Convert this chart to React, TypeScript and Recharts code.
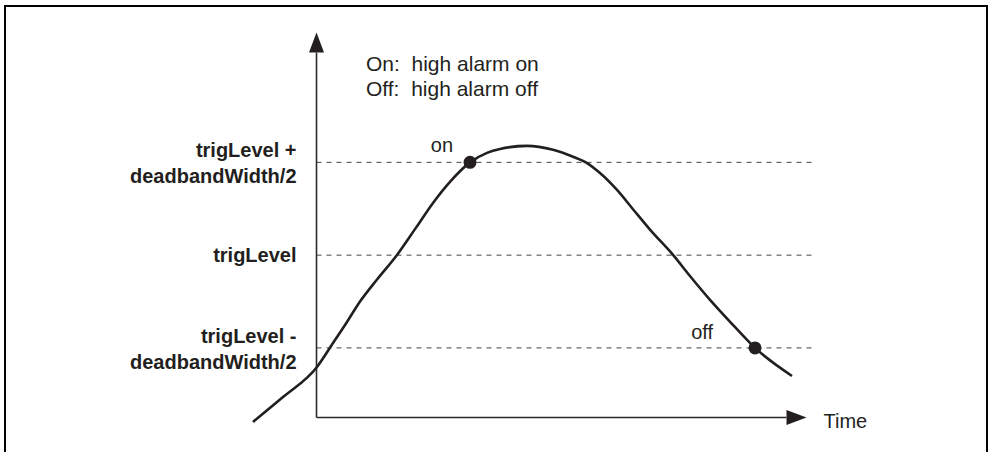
import { LineChart, Line, XAxis, YAxis, ReferenceLine, ReferenceDot } from 'recharts';

// time (arbitrary units, y-axis at 0, x-axis arrow at 100) and signal level
const timePoints = [-12.96, -6.84, 0.1, 3.37, 6.22, 8.88, 12.35, 16.43, 20.45, 23.78, 27.24, 31.33, 34.8, 37.45, 42.96, 48.27, 52.35, 55.2, 57.86, 61.33, 64.59, 68.06, 72.76, 76.22, 80.31, 85, 89.49, 97.04];
const signalValues = [-0.19, 0.88, 2.18, 3.21, 4.12, 5.0, 5.95, 7.01, 8.23, 9.25, 10.16, 11, 11.41, 11.58, 11.71, 11.54, 11.24, 10.97, 10.54, 9.81, 8.98, 8.1, 7.01, 6.1, 5.07, 3.99, 3, 1.79];

// threshold levels and their labels
const levelValues = [11, 7, 3];
const levelLabels = [['trigLevel +', 'deadbandWidth/2'], ['trigLevel'], ['trigLevel -', 'deadbandWidth/2']];

// alarm switching points
const alarmNames = ['on', 'off'];
const alarmTimes = [31.33, 89.49];
const alarmLevels = [11, 3];

const legendLines = ['On:  high alarm on', 'Off:  high alarm off'];

const INK = '#231f20';
const FONT = '"Liberation Sans", Arial, sans-serif';

const data = timePoints.map((t, i) => ({ t, v: signalValues[i] }));

const arrowShape = (label?: string) => (props: any) => {
    const { x1, y1, x2, y2 } = props;
    const dx = x2 - x1;
    const dy = y2 - y1;
    const len = Math.sqrt(dx * dx + dy * dy) || 1;
    const ux = dx / len;
    const uy = dy / len;
    const head = 20;
    const half = 7.5;
    const bx = x2 - ux * head;
    const by = y2 - uy * head;
    const pts = `${x2},${y2} ${bx - uy * half},${by + ux * half} ${bx + uy * half},${by - ux * half}`;
    return (
        <g>
            <line x1={x1} y1={y1} x2={bx} y2={by} stroke="#2b2b2b" strokeWidth={1.6} />
            <polygon points={pts} fill={INK} />
            {label && (
                <text x={x2 + 17} y={y2 + 10.5} fontFamily={FONT} fontSize={20} fill={INK}>{label}</text>
            )}
        </g>
    );
};

const levelShape = (lines: string[]) => (props: any) => {
    const { x1, y1, x2, y2 } = props;
    const left = Math.min(x1, x2);
    const firstBase = lines.length > 1 ? y1 - 5 : y1 + 7;
    return (
        <g>
            <line x1={x1} y1={y1} x2={x2} y2={y2} stroke="#444" strokeWidth={1} strokeDasharray="5 5" />
            {lines.map((s, i) => (
                <text key={i} x={left - 20} y={firstBase + i * 26} textAnchor="end"
                    fontFamily={FONT} fontSize={20} fontWeight="bold" fill={INK}>{s}</text>
            ))}
        </g>
    );
};

const alarmShape = (name: string, idx: number) => (props: any) => {
    const { cx, cy } = props;
    const offsets = [[-17, -10], [-42, -9]];
    return (
        <g>
            <circle cx={cx} cy={cy} r={6.5} fill={INK} />
            <text x={cx + offsets[idx][0]} y={cy + offsets[idx][1]} textAnchor="end"
                fontFamily={FONT} fontSize={20} fill={INK}>{name}</text>
        </g>
    );
};

export default function App() {
    return (
        <div style={{ position: 'relative', width: 988, height: 452, overflow: 'hidden', background: '#fff' }}>
            <style>{`body{margin:0}`}</style>
            <div style={{
                position: 'absolute', left: 4, top: 5, width: 980, height: 470,
                borderLeft: `2px solid #000`, borderTop: `2px solid #000`, borderRight: `2px solid #000`
            }} />
            <div style={{
                position: 'absolute', left: 366, top: 51, fontFamily: FONT, fontSize: 21,
                lineHeight: '25px', color: INK, whiteSpace: 'pre'
            }}>
                {legendLines.map((l) => <div key={l}>{l}</div>)}
            </div>
            <div style={{ position: 'absolute', left: 0, top: 0 }}>
                <LineChart width={988} height={452} data={data}
                    margin={{ top: 32.5, right: 171.7, bottom: 20.6, left: 247.9 }}>
                    <XAxis hide type="number" dataKey="t" domain={[-14, 102]} allowDataOverflow />
                    <YAxis hide type="number" domain={[-0.6, 16.6]} allowDataOverflow />
                    {levelValues.map((lv, i) => (
                        <ReferenceLine key={lv} ifOverflow="visible"
                            segment={[{ x: 0, y: lv }, { x: 102, y: lv }]}
                            shape={levelShape(levelLabels[i])} />
                    ))}
                    <ReferenceLine ifOverflow="visible" segment={[{ x: 0, y: 0 }, { x: 0, y: 16.6 }]} shape={arrowShape()} />
                    <ReferenceLine ifOverflow="visible" segment={[{ x: 0, y: 0 }, { x: 100, y: 0 }]} shape={arrowShape('Time')} />
                    <Line type="monotone" dataKey="v" stroke={INK} strokeWidth={2.6} dot={false}
                        activeDot={false} isAnimationActive={false} />
                    {alarmNames.map((n, i) => (
                        <ReferenceDot key={n} x={alarmTimes[i]} y={alarmLevels[i]} r={6.5} ifOverflow="visible"
                            shape={alarmShape(n, i)} />
                    ))}
                </LineChart>
            </div>
        </div>
    );
}
